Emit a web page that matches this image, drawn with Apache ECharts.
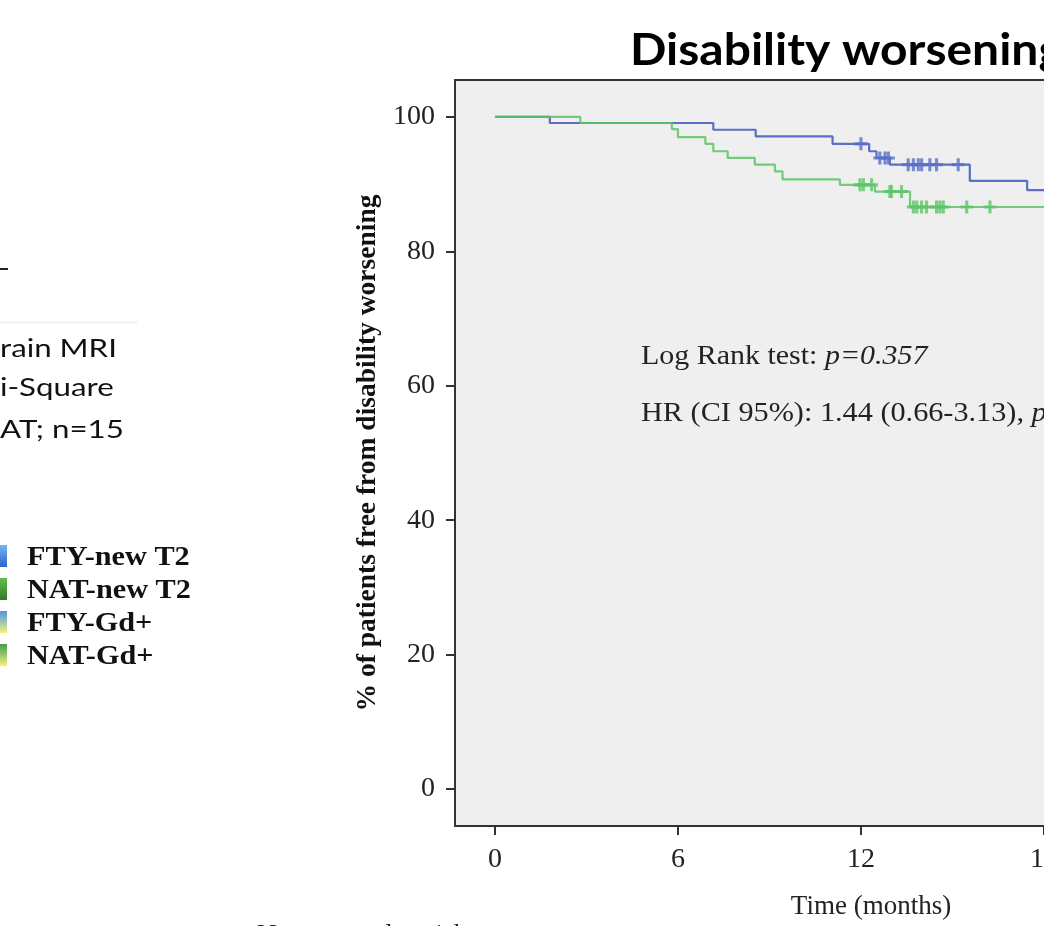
<!DOCTYPE html>
<html><head><meta charset="utf-8">
<script src="https://cdn.jsdelivr.net/npm/echarts@6/dist/echarts.min.js"></script>
<style>html,body{margin:0;padding:0;background:#fff}#c{width:1044px;height:926px}</style>
</head><body><div id="c"></div>
<script>
// Kaplan-Meier: FTY (blue)
const ftyTime = [0, 1.8, 7.16, 8.55, 11.07, 12.27, 12.51, 12.95, 15.57, 17.45, 19.9];
const ftySurv = [100, 99.1, 98.1, 97.1, 96.0, 94.9, 93.9, 92.9, 90.5, 89.1, 89.1];
// NAT (green)
const natTime = [0, 2.8, 5.8, 6.0, 6.9, 7.16, 7.63, 8.52, 9.18, 9.43, 11.31, 12.46, 13.61, 19.9];
const natSurv = [100, 99.1, 98.2, 97.0, 96.0, 94.9, 93.9, 92.9, 91.9, 90.7, 89.9, 88.9, 86.6, 86.6];
// censored observations
const ftyCensTime = [12.0, 12.62, 12.79, 12.9, 13.55, 13.72, 13.88, 13.99, 14.26, 14.48, 15.19];
const ftyCensSurv = [96.0, 93.9, 93.9, 93.9, 92.9, 92.9, 92.9, 92.9, 92.9, 92.9, 92.9];
const natCensTime = [11.97, 12.08, 12.35, 12.95, 13.0, 13.33, 13.72, 13.83, 13.99, 14.15, 14.48, 14.59, 14.70, 15.47, 16.23];
const natCensSurv = [89.9, 89.9, 89.9, 88.9, 88.9, 88.9, 86.6, 86.6, 86.6, 86.6, 86.6, 86.6, 86.6, 86.6, 86.6];
// ticks
const xTicks = [0, 6, 12, 18];
const yTicks = [0, 20, 40, 60, 80, 100];
// legend
const legendLabels = ['FTY-new T2', 'NAT-new T2', 'FTY-Gd+', 'NAT-Gd+'];
const leftFragments = ['rain MRI', 'i-Square', 'AT; n=15'];

const BLUE = '#5b6fc6', GREEN = '#5cc466';
const SERIF = '"Liberation Serif","Times New Roman",serif';
const SANS = 'Lato, "Open Sans", sans-serif';
const plus = 'path://M3.8,0H6.2V3.8H10V6.2H6.2V10H3.8V6.2H0V3.8H3.8Z';
const AX = '#333';

const zip = (a, b) => a.map((v, i) => [v, b[i]]);

const grads = [
  ['#74b6f6', '#2c62c6'],
  ['#62bc4c', '#2e7a2a'],
  ['#4f94e6', '#f2f27a'],
  ['#3f9c54', '#f2f27a']
];
const legendY = [556, 589, 622, 655];

const graphics = [
  {type: 'text', x: 630, y: 51, scaleX: 1.09, style: {text: 'Disability worsening', font: 'bold 44px ' + SANS, fill: '#000', verticalAlign: 'middle'}},
  {type: 'rect', shape: {x: 0, y: 321, width: 138, height: 3}, style: {fill: '#f6f6f6'}},
  {type: 'rect', shape: {x: 0, y: 268, width: 8, height: 2}, style: {fill: '#222'}},
  {type: 'text', x: 641, y: 357, scaleX: 1.07, style: {rich: {n: {font: '28px ' + SERIF, fill: '#222'}, i: {font: 'italic 28px ' + SERIF, fill: '#222'}}, text: '{n|Log Rank test: }{i|p=0.357}', verticalAlign: 'middle'}},
  {type: 'text', x: 641, y: 414, scaleX: 1.08, style: {rich: {n: {font: '28px ' + SERIF, fill: '#222'}, i: {font: 'italic 28px ' + SERIF, fill: '#222'}}, text: '{n|HR (CI 95%): 1.44 (0.66-3.13), }{i|p}', verticalAlign: 'middle'}},
  {type: 'text', x: 871, y: 907, style: {text: 'Time (months)', font: '27px ' + SERIF, fill: '#222', align: 'center', verticalAlign: 'middle'}},
  {type: 'text', x: 257, y: 936, style: {text: 'No. exposed to risk', font: '27px ' + SERIF, fill: '#222', verticalAlign: 'middle'}}
];
leftFragments.forEach((t, i) => graphics.push({type: 'text', x: 0, y: [349, 388, 430][i], scaleX: 1.25, style: {text: t, font: '25px ' + SANS, fill: '#111', verticalAlign: 'middle'}}));
legendLabels.forEach((t, i) => {
  graphics.push({type: 'rect', shape: {x: 0, y: legendY[i] - 11, width: 7, height: 22},
    style: {fill: new echarts.graphic.LinearGradient(0, 0, 0, 1, [{offset: 0, color: grads[i][0]}, {offset: 1, color: grads[i][1]}])}});
  graphics.push({type: 'text', x: 27, y: legendY[i] + 2, scaleX: 1.12, style: {text: t, font: 'bold 27px ' + SERIF, fill: '#111', verticalAlign: 'middle'}});
});

const chart = echarts.init(document.getElementById('c'), null, {renderer: 'canvas'});
chart.setOption({
  animation: false,
  backgroundColor: '#fff',
  grid: {left: 455, top: 80, width: 649, height: 746, outerBoundsMode: 'none', containLabel: false, show: true, backgroundColor: '#efefef', borderWidth: 0},
  xAxis: [{
    type: 'value', min: -1.31, max: 19.97, position: 'bottom',
    axisLine: {show: true, onZero: false, lineStyle: {color: AX, width: 2}}, splitLine: {show: false},
    axisTick: {show: true, customValues: xTicks, length: 9, lineStyle: {color: AX, width: 2}},
    axisLabel: {customValues: xTicks, margin: 20, fontFamily: SERIF, fontSize: 28, color: '#222'}
  }, {
    type: 'value', min: -1.31, max: 19.97, position: 'top',
    axisLine: {show: true, onZero: false, lineStyle: {color: AX, width: 2}}, splitLine: {show: false},
    axisTick: {show: false}, axisLabel: {show: false}
  }],
  yAxis: {
    type: 'value', min: -5.5, max: 105.5,
    axisLine: {show: true, onZero: false, lineStyle: {color: AX, width: 2}}, splitLine: {show: false},
    axisTick: {show: true, customValues: yTicks, length: 9, lineStyle: {color: AX, width: 2}},
    axisLabel: {customValues: yTicks, margin: 20, fontFamily: SERIF, fontSize: 28, color: '#222'},
    name: '% of patients free from disability worsening', nameLocation: 'middle', nameGap: 72, nameRotate: 90,
    nameTextStyle: {fontFamily: SERIF, fontWeight: 'bold', fontSize: 27.5, color: '#111'}
  },
  series: [
    {type: 'line', step: 'end', data: zip(ftyTime, ftySurv), showSymbol: false, lineStyle: {color: BLUE, width: 2.2}, z: 2},
    {type: 'line', step: 'end', data: zip(natTime, natSurv), showSymbol: false, lineStyle: {color: GREEN, width: 2.2, opacity: 0.85}, z: 3},
    {type: 'scatter', data: zip(ftyCensTime, ftyCensSurv), symbol: plus, symbolSize: 13, itemStyle: {color: BLUE}, z: 4},
    {type: 'scatter', data: zip(natCensTime, natCensSurv), symbol: plus, symbolSize: 13, itemStyle: {color: GREEN}, z: 4}
  ],
  graphic: graphics
});
</script></body></html>
